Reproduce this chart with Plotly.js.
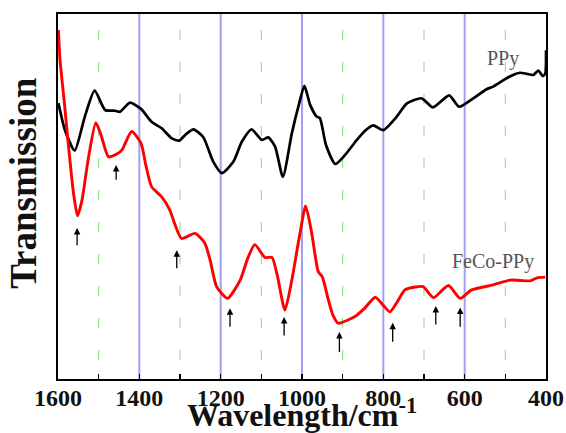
<!DOCTYPE html>
<html>
<head>
<meta charset="utf-8">
<script src="https://cdn.plot.ly/plotly-3.0.1.min.js"></script>
<style>
html,body{margin:0;padding:0;background:#fff;}
#chart{width:566px;height:433px;}
</style>
</head>
<body>
<div id="chart"></div>
<script>
// PPy spectrum (wavenumber, transmission a.u.)
const wnPPy = [1599,1583,1559,1534,1510,1484,1459,1448,1423,1396,1370,1345,1320,1302,1285,1267,1243,1218,1197,1169,1148,1124,1099,1083,1066,1047,1025,1009,994,980,964,956,941,918,894,865,843,825,800,767,742,706,678,638,614,579,546,530,497,481,464,447,431,419,408,402,400];
const tPPy  = [75.6,68.2,62.6,71.9,79.0,73.7,73.5,73.2,75.7,74.0,70.5,68.7,65.9,65.3,67.1,68.4,66.3,59.5,56.4,59.5,65.0,68.4,65.5,66.2,63.6,55.4,67.3,74.6,80.3,75.1,71.9,71.5,64.1,58.9,61.4,65.5,68.2,69.5,68.2,71.9,75.5,76.9,74.4,77.7,74.6,76.9,79.4,80.1,82.4,83.3,83.9,83.6,83.3,84.5,83.0,83.6,90.1];

// FeCo-PPy spectrum
const wnFeCo = [1599,1595,1585,1575,1562,1552,1541,1526,1507,1494,1476,1456,1443,1419,1396,1384,1370,1345,1325,1312,1296,1263,1239,1226,1210,1183,1152,1133,1116,1091,1074,1061,1042,1025,1005,991,976,960,950,935,924,911,870,845,820,801,784,766,747,722,702,677,640,611,583,530,488,464,439,422,402];
const tFeCo  = [95.6,87.4,76.4,64.7,51.0,44.7,49.0,60.0,70.2,66.8,60.9,61.6,62.7,67.8,64.6,58.6,52.7,49.9,46.3,42.2,38.5,39.9,37.2,32.6,25.3,22.1,27.1,33.2,36.8,33.3,33.3,28.5,18.9,27.1,39.9,47.4,39.9,29.4,28.0,21.6,17.5,15.3,17.1,19.5,22.4,20.3,18.4,21.1,24.4,25.2,25.3,22.3,25.6,22.1,24.4,25.8,27.1,27.0,26.9,27.7,27.9];

// band markers (arrows under FeCo-PPy)
const arrowWn   = [1553,1457,1308,1177,1044,908,777,671,611];
const arrowHead = [41.4,58.6,35.3,19.4,17.0,12.9,15.4,20.0,19.6];
const arrowTail = [36.2,54.2,29.9,13.9,11.5,7.0,9.8,14.5,13.9];

// axis ticks
const tickVals = [1600,1500,1400,1300,1200,1100,1000,900,800,700,600,500,400];
const tickText = ['1600','','1400','','1200','','1000','','800','','600','','400'];

// series labels
const seriesNames = ['PPy','FeCo-PPy'];
const labelWn = [506,530];
const labelT  = [87.9,32.1];

const serif = 'Liberation Serif, Times New Roman, serif';

const traces = [
  {x: wnPPy, y: tPPy, type: 'scatter', mode: 'lines', name: seriesNames[0],
   line: {color: '#000000', width: 2.7, shape: 'spline', smoothing: 0.6}},
  {x: wnFeCo, y: tFeCo, type: 'scatter', mode: 'lines', name: seriesNames[1],
   line: {color: '#ff0000', width: 2.9, shape: 'spline', smoothing: 0.6}}
];

const annotations = [];
for (let i = 0; i < arrowWn.length; i++) {
  annotations.push({x: arrowWn[i], y: arrowHead[i], ax: arrowWn[i], ay: arrowTail[i],
    xref: 'x', yref: 'y', axref: 'x', ayref: 'y', text: '', showarrow: true,
    arrowhead: 2, arrowsize: 1, arrowwidth: 1.3, arrowcolor: '#000', standoff: 0, startstandoff: 0});
}
for (let i = 0; i < seriesNames.length; i++) {
  annotations.push({x: labelWn[i], y: labelT[i], xref: 'x', yref: 'y', text: seriesNames[i],
    showarrow: false, font: {family: serif, size: 20, color: '#555555'}});
}
// y-axis title (placed slightly above plot centre, as in the original)
annotations.push({xref: 'paper', yref: 'paper', x: -0.07, y: 0.537, xanchor: 'center', yanchor: 'middle',
  text: '<b>Transmission</b>', textangle: -90, showarrow: false,
  font: {family: serif, size: 37, color: '#111'}});

const layout = {
  width: 566, height: 433,
  margin: {l: 58, r: 20, t: 14, b: 54},
  paper_bgcolor: '#ffffff', plot_bgcolor: '#ffffff',
  showlegend: false,
  xaxis: {
    range: [1600, 400], autorange: false,
    tickmode: 'array', tickvals: tickVals, ticktext: tickText,
    ticks: 'inside', ticklen: 5, tickwidth: 1.5, tickcolor: '#000',
    ticklabelstandoff: -4,
    showline: true, linewidth: 2, linecolor: '#000', mirror: true,
    showgrid: false, zeroline: false,
    tickfont: {family: serif, size: 24, color: '#111', weight: 'bold'},
    title: {text: '<b>Wavelength/cm<sup>-1</sup></b>', font: {family: serif, size: 32, color: '#111'}, standoff: 5}
  },
  yaxis: {
    range: [0, 100], autorange: false,
    showticklabels: false, ticks: '',
    showline: true, linewidth: 2, linecolor: '#000', mirror: true,
    showgrid: false, zeroline: false
  },
  shapes: [],
  annotations: annotations
};

// vertical guide lines: solid blue at major ticks, dashed green at minor ticks
tickVals.forEach(function(v) {
  if (v === 1600 || v === 400) return;
  const major = (v % 200 === 0);
  layout.shapes.push({type: 'line', xref: 'x', yref: 'paper', x0: v, x1: v, y0: 0, y1: 1, layer: 'below',
    line: major ? {color: '#a0a0f0', width: 2} : {color: '#88dd88', width: 1, dash: '0px,19px,10px,3px'}});
});

Plotly.newPlot('chart', traces, layout, {displayModeBar: false, staticPlot: true});
</script>
</body>
</html>
